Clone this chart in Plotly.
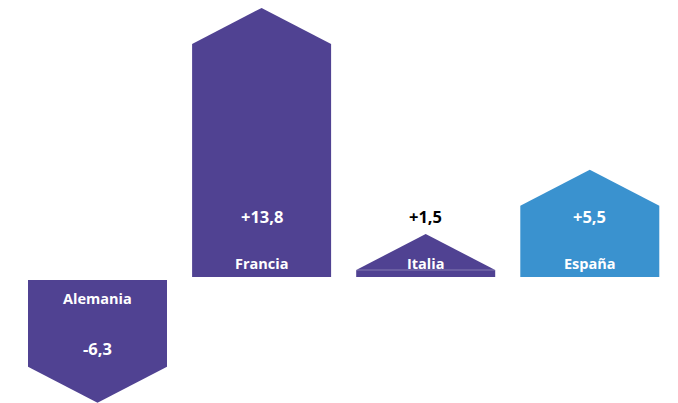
import plotly.graph_objects as go

# Variation by country
countries = ["Alemania", "Francia", "Italia", "España"]
values = [-6.3, 13.8, 1.5, 5.5]
colors = ["#504292", "#504292", "#504292", "#3A92CF"]

W, H = 678, 403
PX_PER_UNIT = 19.5          # vertical scale
BASE_PX = 277               # pixel row of the zero line
CENTER0_PX, STEP_PX = 97.5, 164.1
HALF_W = 69.5 / STEP_PX     # half bar width in x units
HEAD = 36 / PX_PER_UNIT     # arrow head height in y units
MIN_BODY = 7 / PX_PER_UNIT  # smallest rectangular body
NEG_GAP = 3 / PX_PER_UNIT   # small gap below zero for negative bars

y_top = BASE_PX / PX_PER_UNIT
y_bot = -(H - BASE_PX) / PX_PER_UNIT
x_lo = -CENTER0_PX / STEP_PX
x_hi = (W - CENTER0_PX) / STEP_PX


def fmt(v):
    s = f"{abs(v):.1f}".replace(".", ",")
    return ("+" if v >= 0 else "-") + s


fig = go.Figure()
tips = []
for i, (name, v, c) in enumerate(zip(countries, values, colors)):
    sign = 1 if v >= 0 else -1
    start = 0 if v >= 0 else -NEG_GAP
    body = max(abs(v) - HEAD, MIN_BODY)
    shoulder = start + sign * body
    tip = shoulder + sign * HEAD
    tips.append(tip)
    xl, xr = i - HALF_W, i + HALF_W
    fig.add_trace(go.Scatter(
        x=[xl, xl, i, xr, xr, xl],
        y=[start, shoulder, tip, shoulder, start, start],
        mode="lines", fill="toself", fillcolor=c,
        line=dict(width=0, color=c), hoverinfo="skip", showlegend=False,
    ))
    if body <= MIN_BODY:
        # faint seam between head and body on very short bars
        fig.add_trace(go.Scatter(
            x=[xl, xr], y=[shoulder, shoulder], mode="lines",
            line=dict(width=1, color="rgba(255,255,255,0.3)"),
            hoverinfo="skip", showlegend=False,
        ))

FONT = "Open Sans"
for i, (name, v, tip) in enumerate(zip(countries, values, tips)):
    if v >= 0:
        name_shift, val_shift = 14, 61
        inside = abs(tip) * PX_PER_UNIT > val_shift + 10
    else:
        name_shift, val_shift = -21, -71
        inside = True
    fig.add_annotation(x=i, y=0, yshift=name_shift, text=f"<b>{name}</b>",
                       showarrow=False,
                       font=dict(family=FONT, size=14.5, color="white"))
    fig.add_annotation(x=i, y=0, yshift=val_shift, text=f"<b>{fmt(v)}</b>",
                       showarrow=False,
                       font=dict(family=FONT, size=16.5,
                                 color="white" if inside else "black"))

fig.update_layout(
    width=W, height=H,
    margin=dict(l=0, r=0, t=0, b=0),
    paper_bgcolor="white", plot_bgcolor="white",
    xaxis=dict(range=[x_lo, x_hi], visible=False, fixedrange=True),
    yaxis=dict(range=[y_bot, y_top], visible=False, fixedrange=True),
)

fig.write_html("out.html")
